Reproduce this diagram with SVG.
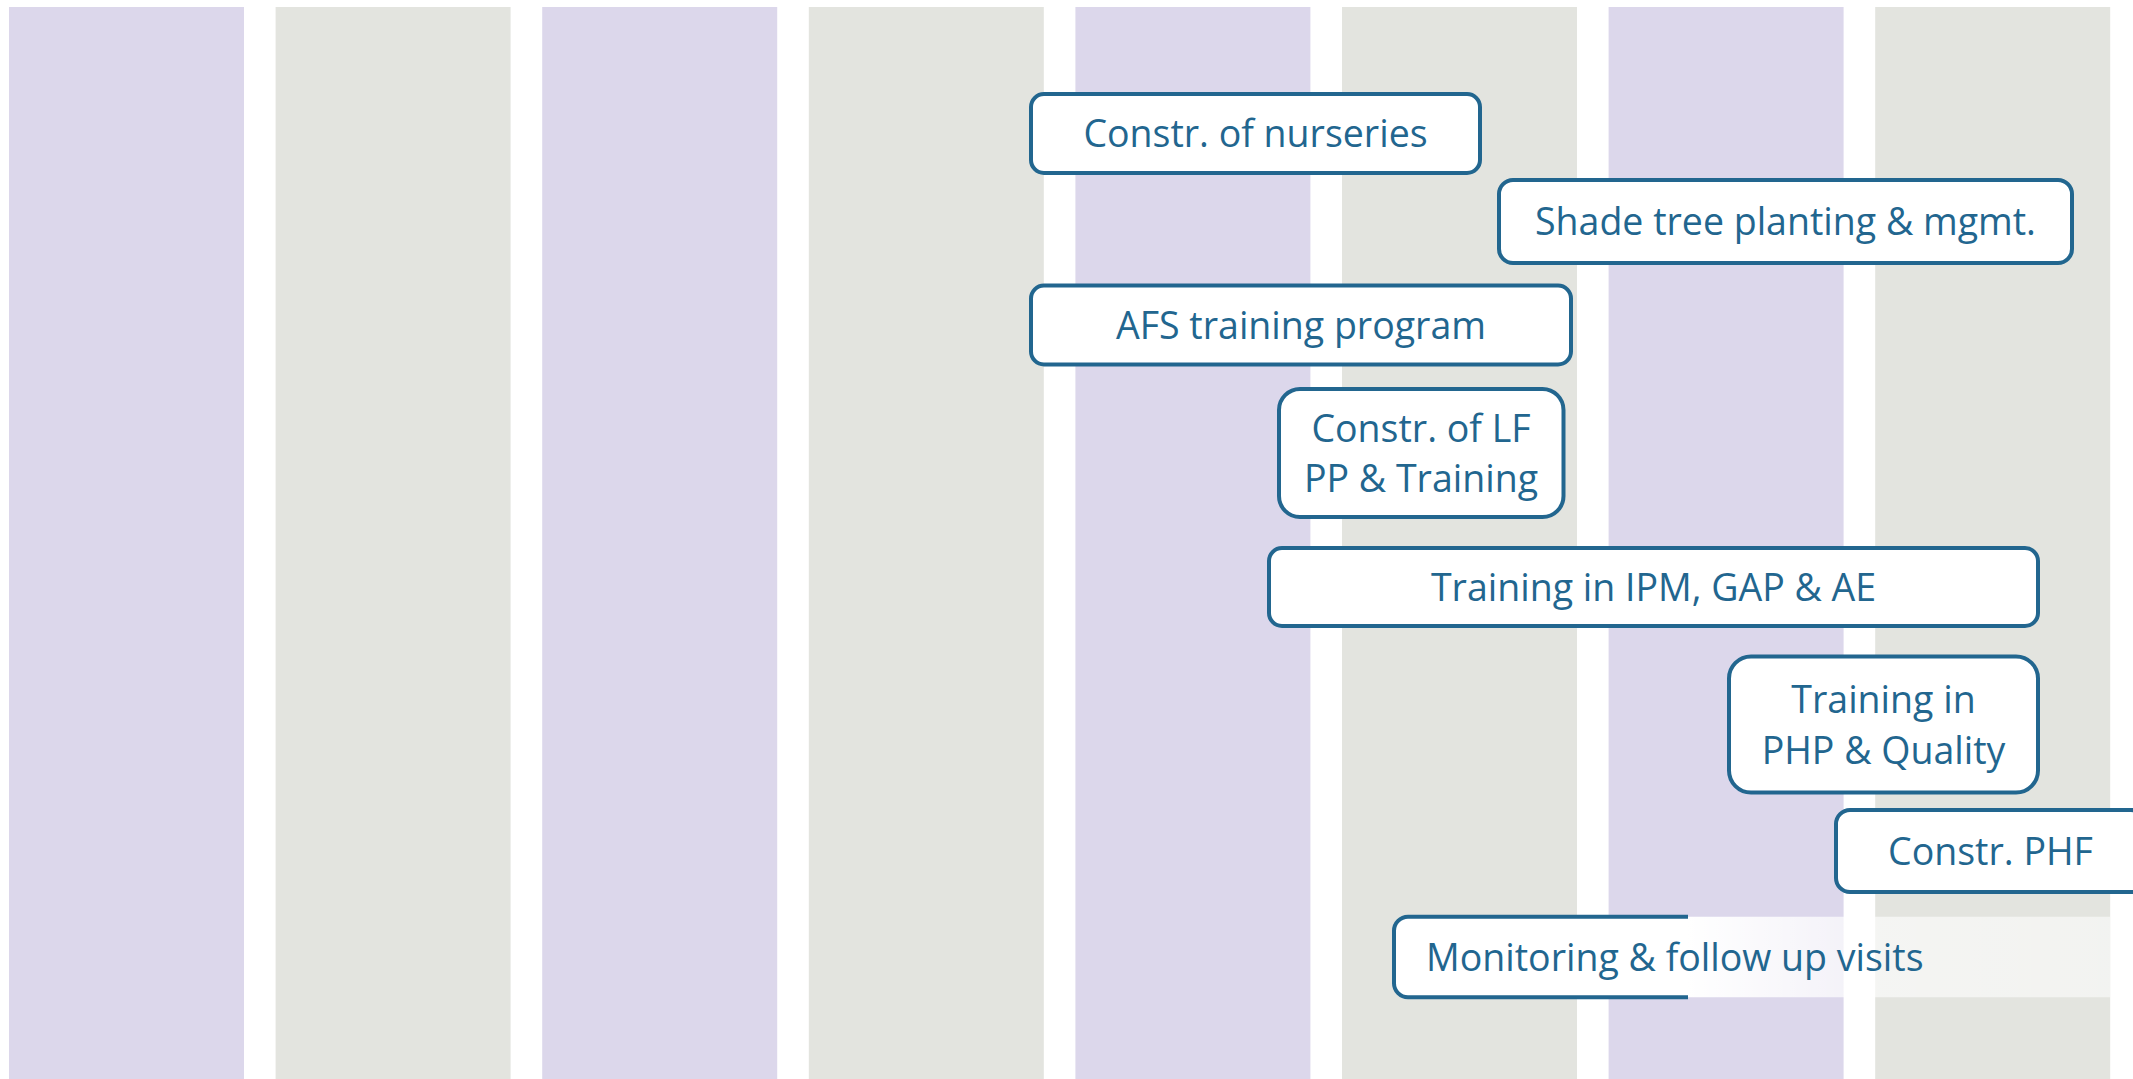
<svg xmlns="http://www.w3.org/2000/svg" width="2133" height="1079" viewBox="0 0 2133 1079">
  <style>
    .colA { fill: #DCD7EB; }
    .colB { fill: #E3E4DF; }
    .box { fill: #FFFFFF; stroke: #22668F; stroke-width: 4; }
    .lbl { font-family: "Open Sans", "Noto Sans", sans-serif; font-size: 37.5px; fill: #22668F; text-anchor: middle; }
    .lbl-start { text-anchor: start; }
  </style>
  <defs>
    <linearGradient id="fade" gradientUnits="userSpaceOnUse" x1="1394" y1="0" x2="2110" y2="0">
      <stop offset="0" stop-color="#FFFFFF" stop-opacity="1"/>
      <stop offset="0.41" stop-color="#FFFFFF" stop-opacity="1"/>
      <stop offset="0.68" stop-color="#FFFFFF" stop-opacity="0.62"/>
      <stop offset="1" stop-color="#FFFFFF" stop-opacity="0.55"/>
    </linearGradient>
  </defs>
  <rect width="2133" height="1079" fill="#FFFFFF"/>
  <g id="columns">
    <rect class="colA" x="9" y="7" width="235" height="1072"/>
    <rect class="colB" x="275.6" y="7" width="235" height="1072"/>
    <rect class="colA" x="542.2" y="7" width="235" height="1072"/>
    <rect class="colB" x="808.8" y="7" width="235" height="1072"/>
    <rect class="colA" x="1075.4" y="7" width="235" height="1072"/>
    <rect class="colB" x="1342" y="7" width="235" height="1072"/>
    <rect class="colA" x="1608.6" y="7" width="235" height="1072"/>
    <rect class="colB" x="1875.2" y="7" width="235" height="1072"/>
  </g>
  <g id="connectors"/>
  <g id="node-nurseries">
    <rect class="box" x="1031" y="94" width="449" height="79" rx="13"/>
    <text class="lbl" x="1255.5" y="147">Constr. of nurseries</text>
  </g>
  <g id="node-shade">
    <rect class="box" x="1499" y="180" width="573" height="83" rx="14"/>
    <text class="lbl" x="1785.5" y="235">Shade tree planting &amp; mgmt.</text>
  </g>
  <g id="node-afs">
    <rect class="box" x="1031" y="285.5" width="540" height="79" rx="13"/>
    <text class="lbl" x="1301" y="339">AFS training program</text>
  </g>
  <g id="node-lf">
    <rect class="box" x="1279" y="389" width="284.5" height="128" rx="21"/>
    <text class="lbl" x="1421" y="442">Constr. of LF</text>
    <text class="lbl" x="1421" y="492">PP &amp; Training</text>
  </g>
  <g id="node-ipm">
    <rect class="box" x="1269" y="548" width="769" height="78" rx="13"/>
    <text class="lbl" x="1653.5" y="601">Training in IPM, GAP &amp; AE</text>
  </g>
  <g id="node-php">
    <rect class="box" x="1729" y="656.5" width="309" height="136" rx="22"/>
    <text class="lbl" x="1883.5" y="713">Training in</text>
    <text class="lbl" x="1883.5" y="764">PHP &amp; Quality</text>
  </g>
  <g id="node-phf">
    <rect class="box" x="1836" y="810" width="309" height="82" rx="14"/>
    <text class="lbl" x="1990.5" y="865">Constr. PHF</text>
  </g>
  <g id="node-monitoring">
    <path d="M1408,916.7 H2110 V997.3 H1408 A14,14 0 0 1 1394,983.3 V930.7 A14,14 0 0 1 1408,916.7 Z" fill="url(#fade)"/>
    <path d="M1688,916.7 H1408 A14,14 0 0 0 1394,930.7 V983.3 A14,14 0 0 0 1408,997.3 H1688" fill="none" stroke="#22668F" stroke-width="4"/>
    <text class="lbl lbl-start" x="1426" y="971">Monitoring &amp; follow up visits</text>
  </g>
</svg>
